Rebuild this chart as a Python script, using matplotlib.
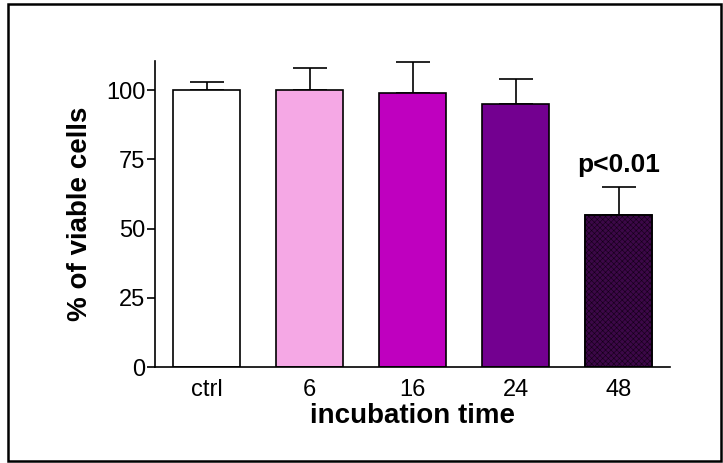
import matplotlib
matplotlib.use("Agg")
import matplotlib.pyplot as plt
from matplotlib.patches import Rectangle

plt.rcParams['font.family'] = ['Liberation Sans', 'DejaVu Sans']
plt.rcParams['hatch.linewidth'] = 0.4

categories = ['ctrl', '6', '16', '24', '48']
viability = [100, 100, 99, 95, 55]
sem_upper = [3, 8, 11, 9, 10]
bar_colors = ['#ffffff', '#f5a8e5', '#bf00bf', '#730090', '#3c0848']
yticks = [0, 25, 50, 75, 100]

fig = plt.figure(figsize=(7.23, 4.63), dpi=100)
ax = fig.add_axes([155/723, 1 - 367/463, (670 - 155)/723, (367 - 61)/463])

x = list(range(len(categories)))
bars = ax.bar(x, viability, width=0.66, color=bar_colors, edgecolor='black',
              linewidth=1.2, zorder=2)
bars[-1].set_hatch('xxxxxx')
bars[-1].set_edgecolor('#140018')
ax.bar(x[-1:], viability[-1:], width=0.66, color='none', edgecolor='black',
       linewidth=1.2, zorder=3)

ax.errorbar(x, viability, yerr=[[0]*len(x), sem_upper], fmt='none',
            ecolor='black', elinewidth=1.2, capsize=12.5, capthick=1.2, zorder=1)

ax.text(x[-1], viability[-1] + sem_upper[-1] + 3.5, 'p<0.01', ha='center',
        va='bottom', fontsize=19, fontweight='bold')

ax.set_xlim(-0.5, 4.5)
ax.set_ylim(0, 110.5)
ax.set_yticks(yticks)
ax.set_xticks(x)
ax.set_xticklabels(categories)
ax.tick_params(axis='y', direction='out', length=6, width=1.2, labelsize=17, pad=1)
ax.tick_params(axis='x', length=0, labelsize=17, pad=9)
for s in ['top', 'right']:
    ax.spines[s].set_visible(False)
for s in ['left', 'bottom']:
    ax.spines[s].set_linewidth(1.2)

ax.set_xlabel('incubation time', fontsize=20, fontweight='bold', labelpad=1)
ax.set_ylabel('% of viable cells', fontsize=20, fontweight='bold', labelpad=9)

fig.patches.append(Rectangle((8/723, 2/463), (721 - 8)/723, (460 - 3)/463,
                             transform=fig.transFigure, fill=False,
                             edgecolor='black', linewidth=1.8))

fig.savefig('out.png', dpi=100)
